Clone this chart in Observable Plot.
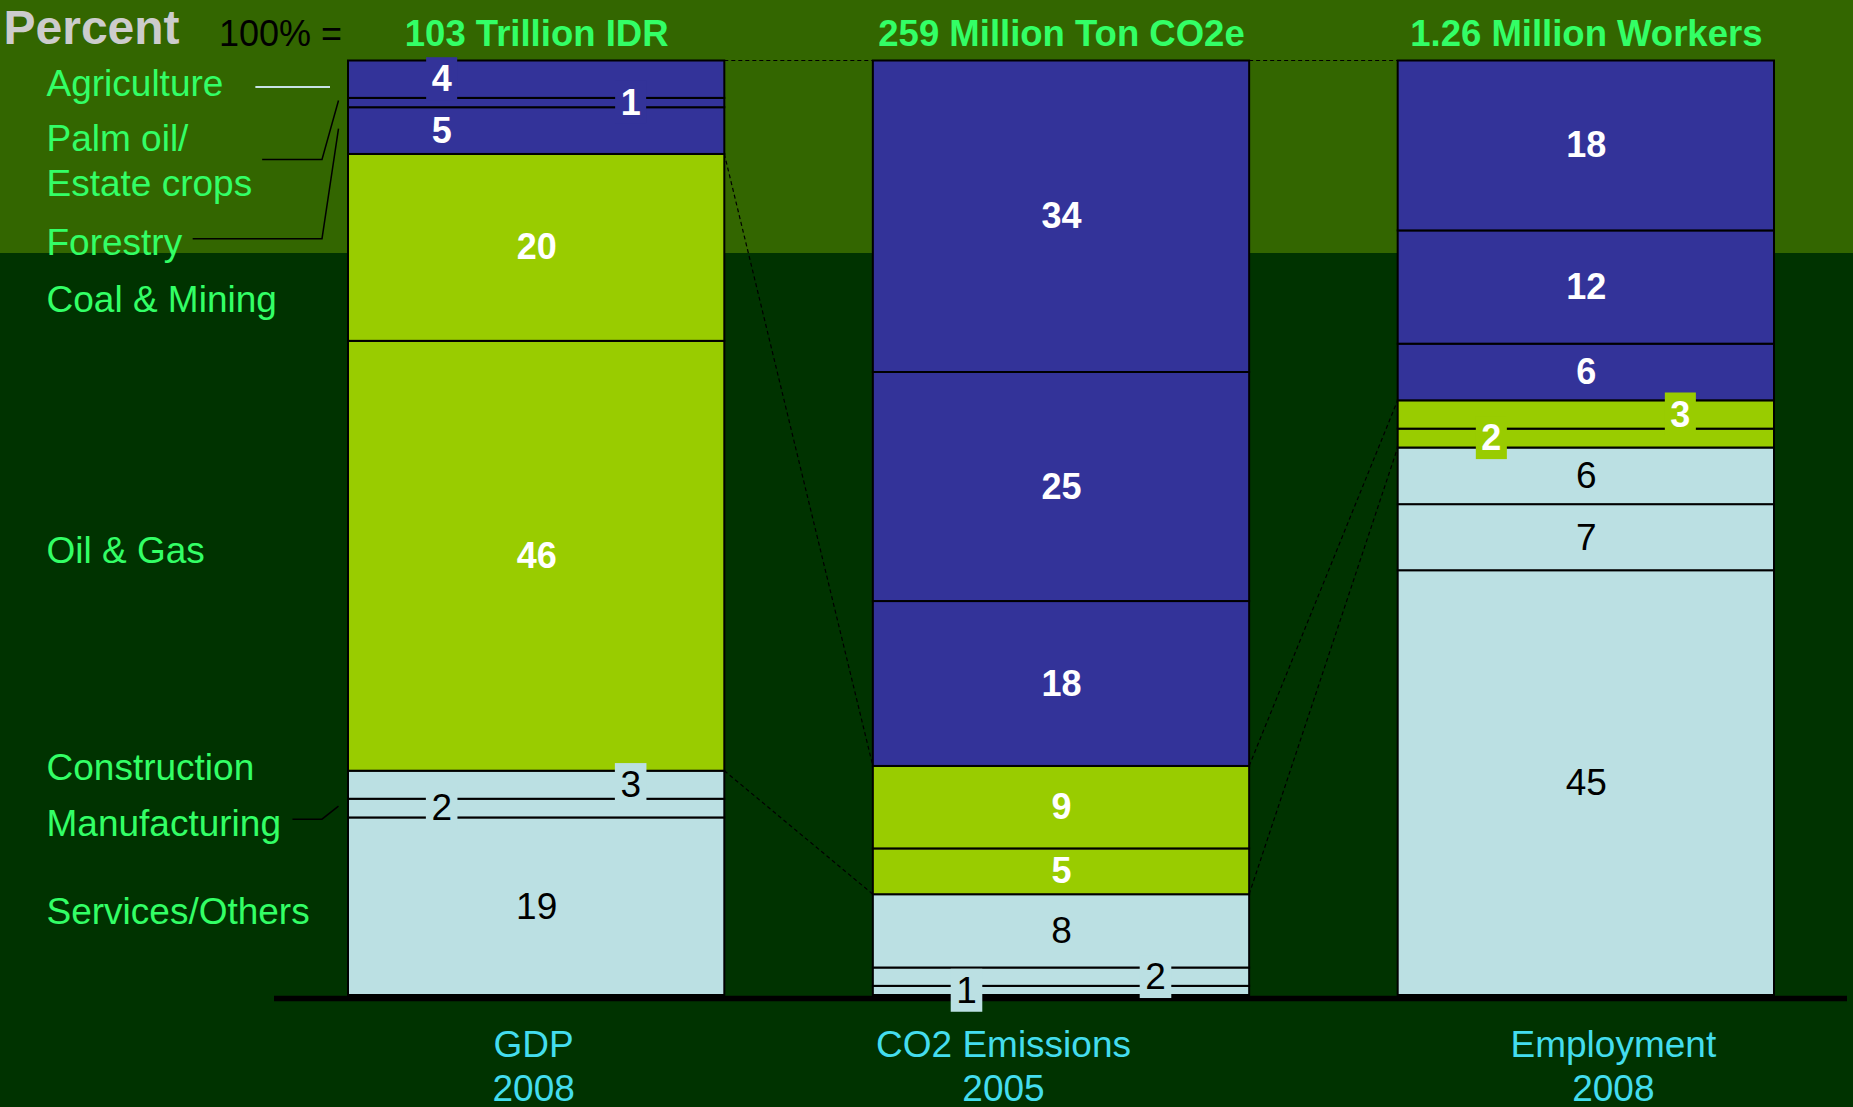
<!DOCTYPE html>
<html>
<head>
<meta charset="utf-8">
<title>Sector shares of GDP, CO2 emissions and employment</title>
<script src="https://cdn.jsdelivr.net/npm/d3@7"></script>
<script src="https://cdn.jsdelivr.net/npm/@observablehq/plot@0.6"></script>
<style>
  html, body { margin: 0; padding: 0; background: #003300; }
  #chart svg { display: block; }
</style>
</head>
<body>
<div id="chart"></div>
<script>
// ---------------- data ----------------
const metrics = ["GDP", "CO2", "Employment"];
const metricTotals = ["103 Trillion IDR", "259 Million Ton CO2e", "1.26 Million Workers"];
const metricNames = ["GDP\n2008", "CO2 Emissions\n2005", "Employment\n2008"];
const sectors = ["Agriculture", "Palm oil/\nEstate crops", "Forestry", "Coal & Mining", "Oil & Gas", "Construction", "Manufacturing", "Services/Others"];
const sectorGroups = ["land", "land", "land", "extractive", "extractive", "other", "other", "other"];
const gdpShare = [4, 1, 5, 20, 46, 3, 2, 19];
const co2Share = [34, 25, 18, 9, 5, 8, 2, 1];
const employmentShare = [18, 12, 6, 3, 2, 6, 7, 45];

// ---------------- layout & style ----------------
const W = 1853, H = 1107;
const M = {top: 60.5, right: 79, bottom: 112, left: 348};
const groups = ["land", "extractive", "other"];
const groupFill = {land: "#333399", extractive: "#99cc00", other: "#bbe0e3"};
const groupInk = {land: "#ffffff", extractive: "#ffffff", other: "#000000"};
const groupWeight = {land: "bold", extractive: "bold", other: "normal"};
const groupSize = {land: 36, extractive: 36, other: 37};
const C = "center";
const labelSide = {
  GDP: ["left", "right", "left", C, C, "right", "left", C],
  CO2: [C, C, C, C, C, C, "right", "left"],
  Employment: [C, C, C, "right", "left", C, C, C]
};
const labelBoxed = {
  GDP: [1, 1, 0, 0, 0, 1, 1, 0],
  CO2: [0, 0, 0, 0, 0, 0, 1, 1],
  Employment: [0, 0, 0, 1, 1, 0, 0, 0]
};
const sideDx = {left: -95, center: 0, right: 94};
const categoryDx = 46 - M.left;
const categoryNudge = [2.3, 56, 109.6, 49.8, -7.6, -19.8, 13.1, 2.7];
const metricNameDx = [-3, -58, 27];
const leaders = [
  {i: 0, gap: 32, stroke: "#c8e2e6", width: 2, dy: 5.5, straight: true},
  {i: 1, gap: 10, stroke: "#000000", width: 1.5, dy: 1},
  {i: 2, gap: 10, stroke: "#000000", width: 1.5, dy: -1.5},
  {i: 6, gap: 11.5, stroke: "#000000", width: 1.5, dy: -2}
];
const green = "#33ff66", cyan = "#44ddee";

// ---------------- table ----------------
const shareOf = {GDP: gdpShare, CO2: co2Share, Employment: employmentShare};
const rows = [];
for (const m of metrics) {
  for (let i = sectors.length - 1; i >= 0; --i) { // bottom segment first
    rows.push({metric: m, sector: sectors[i], idx: i, group: sectorGroups[i], value: shareOf[m][i]});
  }
}
const stack = (o) => Plot.stackY({x: "metric", y: "value", z: "sector", offset: "normalize", ...o});
const cumBelow = (m, i) => d3.sum(shareOf[m].slice(i + 1)) / d3.sum(shareOf[m]);
const gdpMid = sectors.map((_, i) => cumBelow("GDP", i) + gdpShare[i] / d3.sum(gdpShare) / 2);

// value labels
const valueMarks = [];
for (const g of groups) for (const side of ["left", "center", "right"]) for (const boxed of [0, 1]) {
  const pick = d => d.group === g && labelSide[d.metric][d.idx] === side && labelBoxed[d.metric][d.idx] === boxed;
  if (!rows.some(pick)) continue;
  valueMarks.push(Plot.text(rows, stack({
    text: d => pick(d) ? String(d.value) : null,
    fill: groupInk[g], fontWeight: groupWeight[g], fontSize: groupSize[g],
    dx: sideDx[side],
    ariaDescription: boxed ? `boxed ${g}` : "value"
  })));
}

// category labels (left)
const categoryMarks = sectors.map((s, i) => Plot.text([s], {
  y: [gdpMid[i]], text: d => d, frameAnchor: "left", textAnchor: "start",
  dx: categoryDx, dy: categoryNudge[i], fontSize: 37, fill: green,
  lineHeight: 1.216, ariaDescription: `category ${i}`
}));

// metric names (bottom)
const nameMarks = metrics.map((m, i) => Plot.text([m], {
  x: d => d, text: [metricNames[i]], frameAnchor: "bottom", lineAnchor: "bottom",
  dy: 105, dx: metricNameDx[i], fontSize: 37, fill: cyan, lineHeight: 44 / 37
}));

const chart = Plot.plot({
  width: W, height: H,
  marginTop: M.top, marginRight: M.right, marginBottom: M.bottom, marginLeft: M.left,
  x: {domain: metrics, paddingInner: 0.283, paddingOuter: 0, round: false, axis: null},
  y: {domain: [0, 1], axis: null},
  color: {domain: groups, range: groups.map(g => groupFill[g])},
  style: "background: linear-gradient(to bottom, #336600 0px, #336600 253px, #003300 253px, #003300 100%); font-family: 'Liberation Sans', Arial, sans-serif; max-width: none;",
  marks: [
    Plot.barY(rows, stack({fill: "group", stroke: "#000000", strokeWidth: 2})),
    Plot.ruleY([0], {stroke: "#000000", strokeWidth: 5.5, dy: 3, insetLeft: -74, insetRight: -73}),
    ...valueMarks,
    ...categoryMarks,
    Plot.text(metrics, {
      x: d => d, text: (d, i) => metricTotals[i], frameAnchor: "top", lineAnchor: "bottom",
      dy: 45.5 - M.top, fontSize: 36.5, fontWeight: "bold", fill: green
    }),
    ...nameMarks,
    Plot.text(["Percent"], {
      text: d => d, frameAnchor: "top-left", textAnchor: "start", lineAnchor: "bottom",
      dx: 3 - M.left, dy: 43.3 - M.top, fontSize: 48, fontWeight: "bold", fill: "#cccccc"
    }),
    Plot.text(["100% ="], {
      text: d => d, frameAnchor: "top-left", textAnchor: "start", lineAnchor: "bottom",
      dx: 218.5 - M.left, dy: 45 - M.top, fontSize: 36, fill: "#000000"
    })
  ]
});
document.getElementById("chart").append(chart);

// ---------------- annotations derived from the plot's scales ----------------
const svg = d3.select(chart);
const sx = chart.scale("x"), sy = chart.scale("y");
const xBand = sx.apply ? (v => sx.apply(v))
  : d3.scaleBand(sx.domain, sx.range).paddingInner(sx.paddingInner).paddingOuter(sx.paddingOuter);
const bw = sx.bandwidth;
const yPx = sy.apply ? (v => sy.apply(v)) : d3.scaleLinear(sy.domain, sy.range);
const xLeft = m => xBand(m), xRight = m => xBand(m) + bw;

// background boxes behind off-centre labels
svg.selectAll('g[aria-description^="boxed"]').each(function () {
  const g = this.getAttribute("aria-description").split(" ")[1];
  Array.from(this.querySelectorAll("text")).forEach(t => {
    const b = t.getBBox();
    const r = document.createElementNS("http://www.w3.org/2000/svg", "rect");
    r.setAttribute("x", b.x - 5.5);
    r.setAttribute("y", b.y - 1);
    r.setAttribute("width", b.width + 11);
    r.setAttribute("height", b.height + 2);
    r.setAttribute("fill", groupFill[g]);
    r.setAttribute("stroke", "none");
    const tr = t.getAttribute("transform");
    if (tr) r.setAttribute("transform", tr);
    t.parentNode.insertBefore(r, t);
  });
});

// dashed connectors between bars
const levels = [m => 1, m => cumBelow(m, 2), m => cumBelow(m, 4)];
const connectors = [];
for (let k = 0; k < metrics.length - 1; ++k) {
  const a = metrics[k], b = metrics[k + 1];
  for (const lv of levels) connectors.push([[xRight(a), yPx(lv(a))], [xLeft(b), yPx(lv(b))]]);
}
svg.append("g").attr("aria-label", "connectors")
  .attr("fill", "none").attr("stroke", "#000000").attr("stroke-width", 1.2).attr("stroke-dasharray", "4 3")
  .selectAll("path").data(connectors).join("path").attr("d", d3.line());

// leader lines from category labels to the GDP bar
const chartBox = chart.getBoundingClientRect();
const catText = {};
svg.selectAll('g[aria-description^="category"]').each(function () {
  catText[+this.getAttribute("aria-description").split(" ")[1]] = this.querySelector("text");
});
const barLeft = xLeft("GDP");
const leaderData = leaders.map(L => {
  const r = catText[L.i].getBoundingClientRect();
  const x0 = r.right - chartBox.left + L.gap;
  const yl = yPx(gdpMid[L.i]) + categoryNudge[L.i] + L.dy;
  const pts = L.straight
    ? [[x0, yl], [barLeft - 18, yl]]
    : [[x0, yl], [barLeft - 26, yl], [barLeft - 9.5, yPx(gdpMid[L.i]) - 2]];
  return {L, pts};
});
svg.append("g").attr("aria-label", "leaders").attr("fill", "none")
  .selectAll("path").data(leaderData).join("path")
  .attr("d", d => d3.line()(d.pts))
  .attr("stroke", d => d.L.stroke).attr("stroke-width", d => d.L.width);
</script>
</body>
</html>
